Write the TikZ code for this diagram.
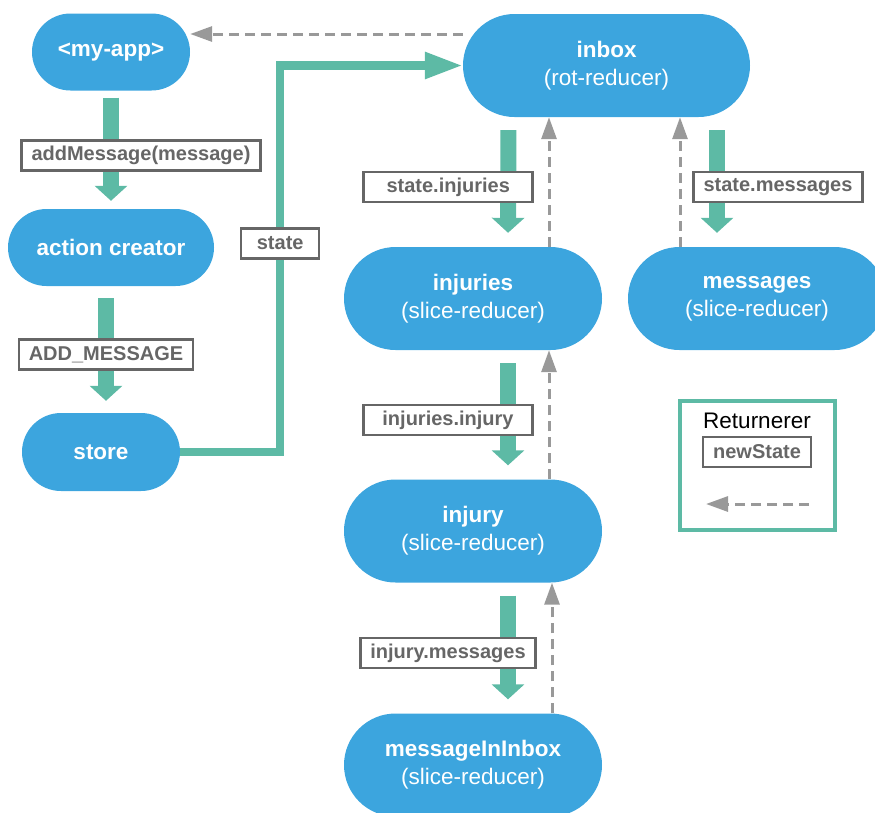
\documentclass[tikz,border=0pt]{standalone}
\usepackage{fontspec}
\setmainfont{Liberation Sans}
\usepackage{xcolor}
\usetikzlibrary{arrows.meta, positioning, calc}
\definecolor{nodeblue}{HTML}{3CA5DE}
\definecolor{flowgreen}{HTML}{5DBAA5}
\definecolor{labelgray}{HTML}{666666}
\definecolor{returngray}{HTML}{999999}

\begin{document}
\begin{tikzpicture}[x=1pt, y=-1pt,
    every node/.style={font=\fontsize{22.5}{28}\selectfont, align=center},
    comp/.style={fill=nodeblue, text=white, minimum width=158pt, minimum height=77pt, rounded corners=38.5pt, inner sep=0pt},
    reducer/.style={comp, minimum width=258pt, minimum height=103pt, rounded corners=51.5pt},
    flow/.style={draw=flowgreen, line width=16pt, -{Triangle[length=15pt, width=32pt]}, shorten <=13pt, shorten >=14pt},
    feed/.style={draw=flowgreen, line width=8.5pt, -{Triangle[length=38pt, width=25pt]}},
    ret/.style={draw=returngray, line width=3pt, dash pattern=on 10pt off 6pt, -{Triangle[length=22pt, width=15pt]}},
    lbl/.style={draw=labelgray, line width=2.5pt, fill=white, text=labelgray, font=\fontsize{20}{24}\selectfont\bfseries,
        minimum width=169pt, minimum height=30pt, inner xsep=10pt, inner ysep=0pt}]
    \useasboundingbox (0,0) rectangle (875,812);

    % components and reducers
    \node[comp] (myapp) at (111,52) {\bfseries <my-app>};
    \node[comp, minimum width=206pt] (actcr) at (111,247.5) {\bfseries action creator};
    \node[comp, minimum height=78pt, rounded corners=39pt] (store) at (101,452) {\bfseries store};
    \node[reducer, minimum width=287pt] (inbox) at (606.5,65.5) {{\bfseries inbox}\\(rot-reducer)};
    \node[reducer] (injuries) at (473,298.5) {{\bfseries injuries}\\(slice-reducer)};
    \node[reducer] (messages) at (757,298.5) {{\bfseries messages}\\(slice-reducer)};
    \node[reducer] (injury) at (473,531) {{\bfseries injury}\\(slice-reducer)};
    \node[reducer] (msginbox) at (473,765) {{\bfseries messageInInbox}\\(slice-reducer)};

    % data going down
    \draw[flow, shorten <=7pt, shorten >=8pt] (myapp) -- node[lbl, pos=0.55, xshift=30pt] {addMessage(message)} (actcr);
    \draw[flow, shorten <=12pt, shorten >=12pt] ([xshift=-5pt]actcr.south) -- node[lbl, pos=0.54] {ADD\_MESSAGE} ([xshift=5pt]store.north);
    \draw[feed] (store.east) -- ++(100,0) |- node[lbl, pos=0.27, minimum width=78pt] {state} (inbox.west);
    \draw[flow] ([xshift=-98pt]inbox.south) -- node[lbl, pos=0.54, xshift=-60pt] {state.injuries} ([xshift=35pt]injuries.north);
    \draw[flow] ([xshift=110.5pt]inbox.south) -- node[lbl, pos=0.54, xshift=61pt] {state.messages} ([xshift=-40pt]messages.north);
    \draw[flow] ([xshift=35pt]injuries.south) -- node[lbl, pos=0.54, xshift=-60pt] {injuries.injury} ([xshift=35pt]injury.north);
    \draw[flow] ([xshift=35pt]injury.south) -- node[lbl, pos=0.54, xshift=-60pt] {injury.messages} ([xshift=35pt]msginbox.north);

    % new state going back up
    \draw[ret] ([xshift=79pt]msginbox.north) -- ([xshift=79pt]injury.south);
    \draw[ret] ([xshift=76pt]injury.north) -- ([xshift=76pt]injuries.south);
    \draw[ret] ([xshift=76pt]injuries.north) -- ([xshift=-57.5pt]inbox.south);
    \draw[ret] ([xshift=-77pt]messages.north) -- ([xshift=73.5pt]inbox.south);
    \draw[ret] ([yshift=31.5pt]inbox.west) -- ([yshift=18pt]myapp.east);

    % legend
    \node[draw=flowgreen, line width=4pt, minimum width=155pt, minimum height=129pt] (legend) at (757.5,465.5) {};
    \node (returnerer) at (757,421) {Returnerer};
    \node[lbl, minimum width=103pt] (newstate) at (757,452) {newState};
    \coordinate (leg-from) at (809,504);
    \coordinate (leg-to) at (706,504);
    \draw[ret] (leg-from) -- (leg-to);
\end{tikzpicture}
\end{document}
